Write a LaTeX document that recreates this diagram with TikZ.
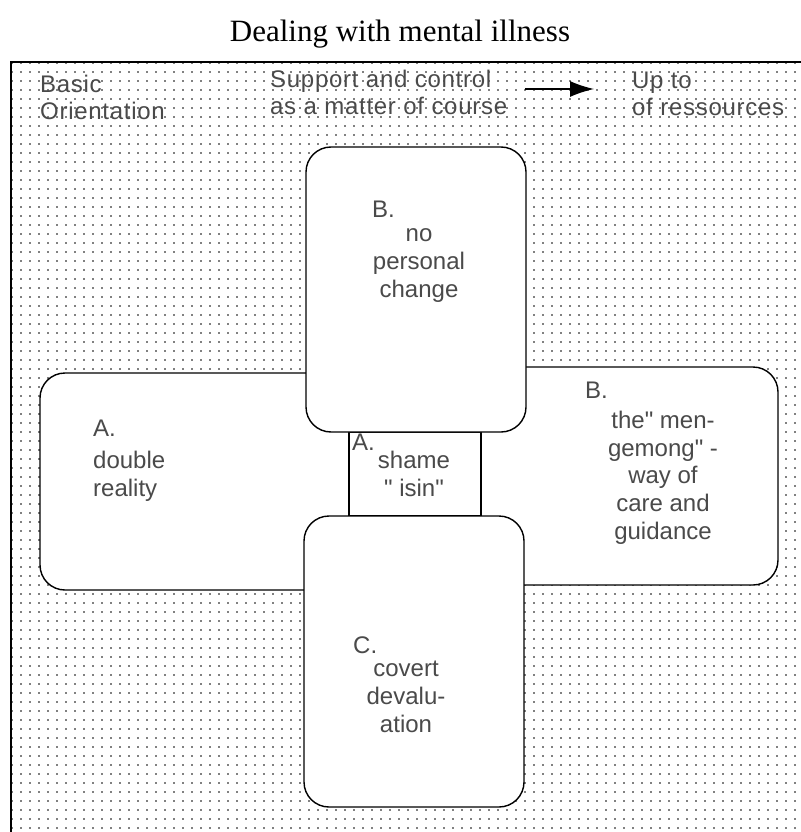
\documentclass[tikz,border=0pt]{standalone}
\usepackage{fontspec}
\usetikzlibrary{arrows.meta,patterns.meta}
\newfontfamily\headfont{Liberation Serif}
\newfontfamily\cardfont{Liberation Sans}
\newfontfamily\notefont[LetterSpace=3]{Liberation Sans}
\definecolor{inkgray}{HTML}{4A4A4A}
\tikzdeclarepattern{
  name=dotgrid,
  type=uncolored,
  bounding box={(0,0) and (8.5pt,8.5pt)},
  tile size={(8.5pt,8.5pt)},
  code={
    \fill (4.25pt,4.25pt) circle (0.95pt);
  }
}
\tikzset{
  card/.style={draw, line width=1.4pt, fill=white, rounded corners=25pt,
    inner sep=0pt, outer sep=0pt},
  gap/.style={draw, line width=1.4pt, fill=white, inner sep=0pt, outer sep=0pt},
  cardtext/.style={font=\cardfont\fontsize{24}{27.6}\selectfont, text=inkgray,
    inner sep=0pt},
  note/.style={font=\notefont\fontsize{24}{27}\selectfont, text=inkgray,
    inner sep=0pt, anchor=base west, align=left},
}
\begin{document}
\begin{tikzpicture}[x=1pt,y=-1pt]
  \useasboundingbox (0,0) rectangle (800,832);
  \node[font=\headfont\fontsize{31}{34}\selectfont, anchor=base] (title) at (400,42) {Dealing with mental illness};
  \draw[line width=2pt, pattern=dotgrid, pattern color=black] (11,62) rectangle (812,845);

  \node[note] (basic) at (40,120) {Basic\\Orientation};
  \node[note] (support) at (270,115) {Support and control\\as a matter of course};
  \node[note] (upto) at (632,116) {Up to\\of ressources};
  \coordinate (arrfrom) at (525,89);
  \coordinate (arrto) at (594,89);
  \draw[line width=1.4pt, -{Latex[length=24pt,width=16pt]}] (arrfrom) -- (arrto);

  \node[card, minimum width=320pt, minimum height=217pt] (leftcard) at (200,481.5) {};
  \node[card, minimum width=308pt, minimum height=218pt] (rightcard) at (624,476) {};
  \node[gap, minimum width=132pt, minimum height=84pt] (midcard) at (415,474) {};
  \node[card, minimum width=220pt, minimum height=285pt] (topcard) at (416,289.5) {};
  \node[card, minimum width=220pt, minimum height=291pt] (lowcard) at (414,661.5) {};

  \node[cardtext, anchor=base west] (topkey) at (372,217) {B.};
  \node[cardtext, anchor=base, align=center] (toptext) at (419,297) {no\\personal\\change};

  \node[cardtext, anchor=base west] (leftkey) at (93,436) {A.};
  \node[cardtext, anchor=base west, align=left] (lefttext) at (93,496) {double\\reality};

  \node[cardtext, anchor=base west] (midkey) at (352,450) {A.};
  \node[cardtext, anchor=base, align=center] (midtext) at (414,496) {shame\\" isin"};

  \node[cardtext, anchor=base west] (rightkey) at (585,398) {B.};
  \node[cardtext, anchor=base, align=center] (righttext) at (663,539) {the" men-\\gemong" -\\way of\\care and\\guidance};

  \node[cardtext, anchor=base west] (lowkey) at (353,653) {C.};
  \node[cardtext, anchor=base, align=center] (lowtext) at (406,732) {covert\\devalu-\\ation};
\end{tikzpicture}
\end{document}
